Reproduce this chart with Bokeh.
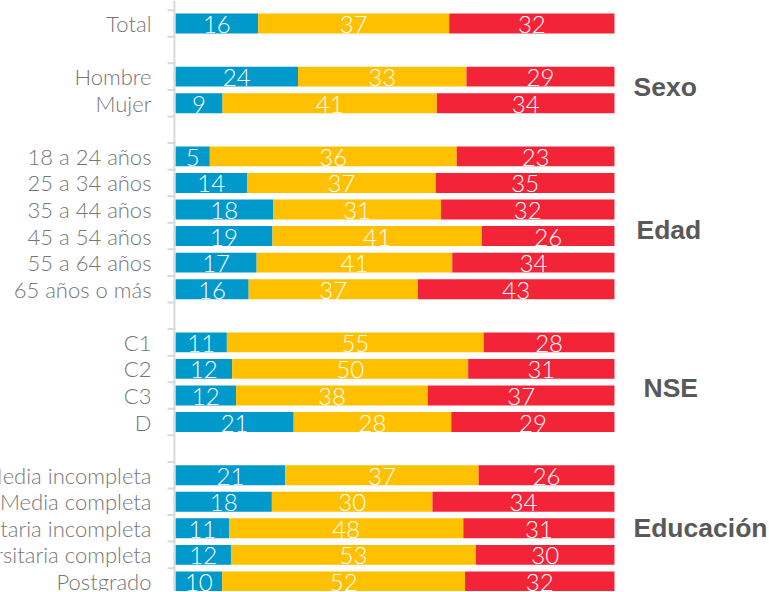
from bokeh.plotting import figure
from bokeh.models import ColumnDataSource, Range1d, Span
from bokeh.core.properties import value
from bokeh.embed import file_html
from bokeh.resources import INLINE
import numpy as np

# ---------------- data ----------------
categories = ["Total", "Hombre", "Mujer",
              "18 a 24 años", "25 a 34 años", "35 a 44 años", "45 a 54 años", "55 a 64 años", "65 años o más",
              "C1", "C2", "C3", "D",
              "Media incompleta", "Media completa", "Universitaria incompleta", "Universitaria completa", "Postgrado"]
group_names = ["", "Sexo", "Edad", "NSE", "Educación"]
group_sizes = [1, 2, 6, 4, 5]
serie_azul = [16, 24, 9, 5, 14, 18, 19, 17, 16, 11, 12, 12, 21, 21, 18, 11, 12, 10]
serie_amarilla = [37, 33, 41, 36, 37, 31, 41, 41, 37, 55, 50, 38, 28, 37, 30, 48, 53, 52]
serie_roja = [32, 29, 34, 23, 35, 32, 26, 34, 43, 28, 31, 37, 29, 26, 34, 31, 30, 32]

# ---------------- layout of rows (one blank row between groups) ----------------
rows = []
group_rows = []
r = 0
for size in group_sizes:
    g = []
    for _ in range(size):
        rows.append(r)
        g.append(r)
        r += 1
    group_rows.append(g)
    r += 1
n_rows = rows[-1] + 1

a = np.array(serie_azul, float)
b = np.array(serie_amarilla, float)
c = np.array(serie_roja, float)
tot = a + b + c
a_e = a / tot * 100
b_e = a_e + b / tot * 100
c_e = np.full_like(a_e, 100.0)

src = ColumnDataSource(dict(
    row=rows, cat=categories,
    a0=np.zeros_like(a_e), a1=a_e, b1=b_e, c1=c_e,
    am=a_e / 2, bm=(a_e + b_e) / 2, cm=(b_e + c_e) / 2,
    at=[str(v) for v in serie_azul], bt=[str(v) for v in serie_amarilla], ct=[str(v) for v in serie_roja],
))

BLUE, YELLOW, RED = "#0099CC", "#FFC000", "#F32437"

W, H = 768, 591
PX = 100 / 439.0              # data units per pixel on x
x0_page = 175                 # pixel x of value 0
ROW = 26.57                   # pixels per row
y0_page = 23                  # pixel y of first row
p = figure(width=W, height=H, output_backend="svg", toolbar_location=None,
           x_range=Range1d(-x0_page * PX, (W - x0_page) * PX),
           y_range=Range1d((H - y0_page) / ROW, -y0_page / ROW),
           min_border=0, min_border_left=0, min_border_right=0, min_border_top=0, min_border_bottom=0)
p.axis.visible = False
p.grid.visible = False
p.outline_line_color = None
p.background_fill_color = "white"

# axis line and ticks
p.add_layout(Span(location=-0.25, dimension="height", line_color="#d9d9d9", line_width=2))
bounds = np.arange(n_rows + 1) - 0.5
p.segment(x0=-8 * PX, x1=0, y0=bounds, y1=bounds, line_color="#d9d9d9", line_width=2)

BH = 0.75
p.hbar(y="row", left="a0", right="a1", height=BH, source=src, fill_color=BLUE, line_color=None)
p.hbar(y="row", left="a1", right="b1", height=BH, source=src, fill_color=YELLOW, line_color=None)
p.hbar(y="row", left="b1", right="c1", height=BH, source=src, fill_color=RED, line_color=None)

NUM_FONT = value("Lato Light")
for xcol, tcol in (("am", "at"), ("bm", "bt"), ("cm", "ct")):
    p.text(x=xcol, y="row", text=tcol, source=src, text_align="center", text_baseline="middle",
           text_color="white", text_font=NUM_FONT, text_font_size="24px", y_offset=1)

# category labels
p.text(x=-24 * PX, y="row", text="cat", source=src, text_align="right", text_baseline="middle",
       text_color="#767676", text_font=value("Lato Light"), text_font_size="22px")

# group labels (small per-label nudges in pixels, as in the original layout)
nudge_x = {"Sexo": 0, "Edad": 3, "NSE": 10, "Educación": 0}
nudge_y = {"Sexo": -3, "Edad": 7, "NSE": 6, "Educación": 0}
names = [n for n in group_names if n]
gsrc = ColumnDataSource(dict(
    name=names,
    y=[float(np.mean(g)) for n, g in zip(group_names, group_rows) if n],
    dx=[nudge_x[n] for n in names],
    dy=[nudge_y[n] for n in names],
))
p.text(x=(633 - x0_page) * PX, y="y", text="name", source=gsrc, x_offset="dx", y_offset="dy",
       text_align="left", text_baseline="middle",
       text_color="#595959", text_font=value("Liberation Sans"), text_font_style="bold", text_font_size="26.5px")

open("out.html", "w").write(file_html(p, INLINE))
